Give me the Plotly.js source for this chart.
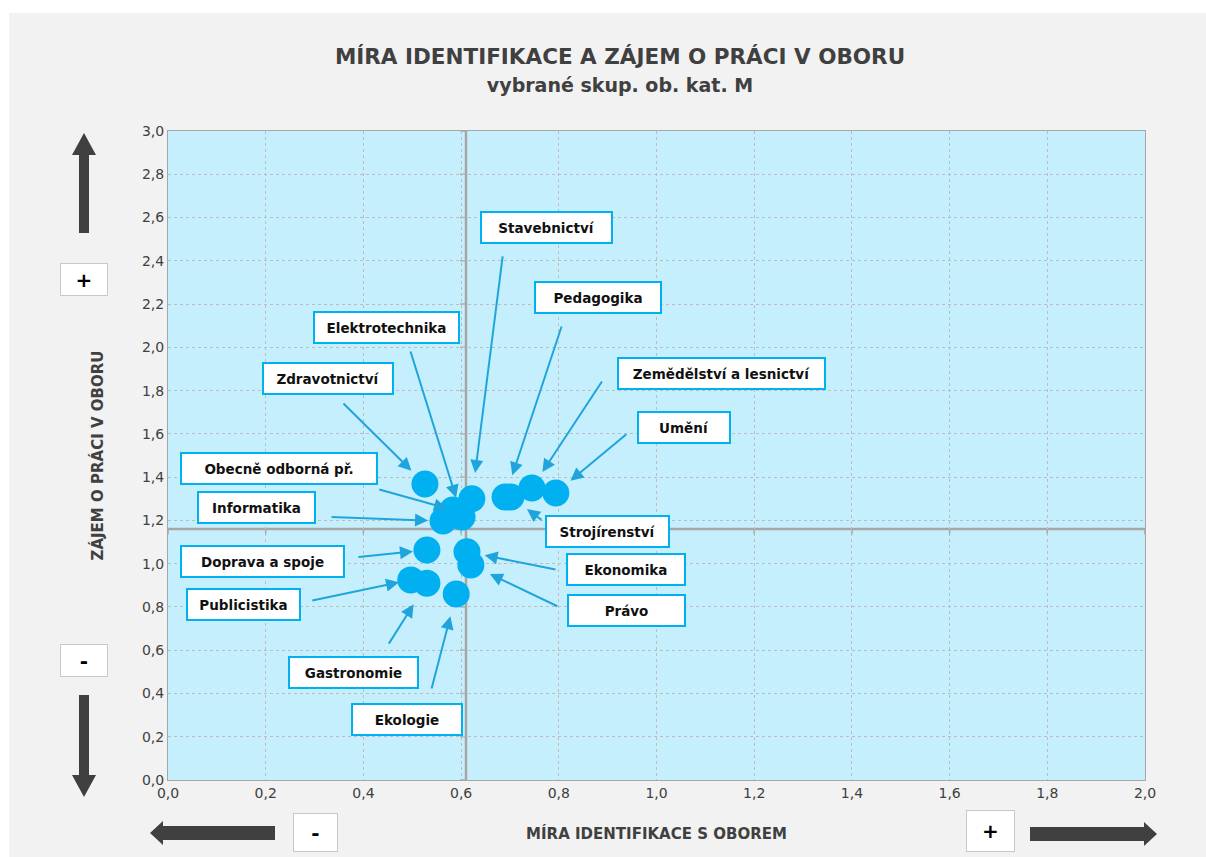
<!DOCTYPE html>
<html>
<head>
<meta charset="utf-8">
<script src="https://cdn.plot.ly/plotly-3.0.1.min.js"></script>
<style>
  html, body { margin: 0; padding: 0; background: #ffffff; width: 1206px; height: 857px; overflow: hidden; }
  #chart { position: absolute; left: 9px; top: 13px; width: 1197px; height: 844px; }
</style>
</head>
<body>
<div id="chart"></div>
<script>
// ---------------- DATA ----------------
const fields = ['Zdravotnictví','Obecně odborná př.','Informatika','Elektrotechnika','Stavebnictví',
  'Pedagogika','Strojírenství','Zemědělství a lesnictví','Umění','Doprava a spoje',
  'Ekonomika','Právo','Publicistika','Gastronomie','Ekologie'];
const identification = [0.526,0.583,0.563,0.602,0.622,0.690,0.702,0.745,0.794,0.530,0.612,0.620,0.497,0.530,0.590];
const interest =       [1.368,1.248,1.197,1.216,1.300,1.308,1.308,1.350,1.327,1.063,1.055,0.994,0.925,0.910,0.860];
const meanIdentification = 0.61;
const meanInterest = 1.16;
const xTicks = [0,0.2,0.4,0.6,0.8,1.0,1.2,1.4,1.6,1.8,2.0];
const yTicks = [0,0.2,0.4,0.6,0.8,1.0,1.2,1.4,1.6,1.8,2.0,2.2,2.4,2.6,2.8,3.0];

// ---------------- LAYOUT HELPERS (page pixels -> paper) ----------------
const PL = 168, PR = 1145, PT = 131, PB = 780;
const fx = p => (p - PL) / (PR - PL);
const fy = p => (PB - p) / (PB - PT);

// label box centre (page px) and width, in order of fields
const labelBox = [
  [328,378,132],[279,468,198],[256,507,119],[386,327,147],[546,228,133],
  [598,297,128],[607,531,125],[721,373,209],[684,427,94],[262,561,165],
  [626,569,120],[626,610,119],[243,604,115],[353,672,131],[407,719,112]
];
// arrow tail offset from the point (px) and standoff
const arrowTail = [
  [-83,-82,19],[-75,-21,6],[-113,-4,15],[-52,-167,20],[31,-244,26],
  [57,-172,23],[32,24,20],[71,-108,19],[72,-60,19],[-70,7,14],
  [90,18,18],[88,42,21],[-100,21,12],[-39,62,25],[-25,96,23]
];

const dark = '#404040';
const blue = '#00B0F0';
const arrowBlue = '#1FA5DC';
const labelFont = {family: 'DejaVu Sans, sans-serif', size: 13.5, color: '#111111'};

const annotations = [];
fields.forEach((f, i) => {
  const [cx, cy, w] = labelBox[i];
  annotations.push({
    xref: 'paper', yref: 'paper', x: fx(cx), y: fy(cy), xanchor: 'center', yanchor: 'middle',
    text: '<b>' + f + '</b>', showarrow: false, font: labelFont,
    bgcolor: '#ffffff', bordercolor: blue, borderwidth: 2, borderpad: 0,
    width: w - 4, height: 29
  });
  const [ax, ay, so] = arrowTail[i];
  annotations.push({
    xref: 'x', yref: 'y', x: identification[i], y: interest[i], text: '',
    showarrow: true, ax: ax, ay: ay, axref: 'pixel', ayref: 'pixel',
    arrowhead: 2, arrowsize: 1.3, arrowwidth: 2, arrowcolor: arrowBlue, standoff: so
  });
});

// +/- boxes
const signBoxes = [
  ['+', 84, 279.5, 48, 33],
  ['-', 84, 660.5, 48, 33],
  ['-', 315.5, 832.5, 45, 39],
  ['+', 990.5, 831, 49, 42]
];
signBoxes.forEach(([t, cx, cy, w, h]) => {
  annotations.push({
    xref: 'paper', yref: 'paper', x: fx(cx), y: fy(cy), xanchor: 'center', yanchor: 'middle',
    text: '<b>' + t + '</b>', showarrow: false,
    font: {family: 'DejaVu Sans, sans-serif', size: 20, color: '#000000'},
    bgcolor: '#ffffff', bordercolor: '#C8C8C8', borderwidth: 1, borderpad: 0,
    width: w - 2, height: h - 2
  });
});

// block arrows as paths in paper coords
function pathFromPx(pts) {
  return 'M ' + pts.map(p => fx(p[0]).toFixed(5) + ',' + fy(p[1]).toFixed(5)).join(' L ') + ' Z';
}
const blockArrows = [
  [[84,133],[96,155],[89,155],[89,233],[79,233],[79,155],[72,155]],
  [[84,797],[96,775],[89,775],[89,695],[79,695],[79,775],[72,775]],
  [[150,833],[163,821],[163,826],[275,826],[275,840],[163,840],[163,845]],
  [[1157,834],[1144,822],[1144,827],[1030,827],[1030,841],[1144,841],[1144,846]]
];
const shapes = blockArrows.map(pts => ({
  type: 'path', xref: 'paper', yref: 'paper', path: pathFromPx(pts),
  fillcolor: dark, line: {width: 0}
}));

// quadrant reference lines (axis crossings)
shapes.push({type: 'line', xref: 'x', yref: 'paper', x0: meanIdentification, x1: meanIdentification, y0: 0, y1: 1,
  line: {color: '#A6A6A6', width: 2.5}, layer: 'below'});
shapes.push({type: 'line', xref: 'paper', yref: 'y', x0: 0, x1: 1, y0: meanInterest, y1: meanInterest,
  line: {color: '#A6A6A6', width: 2.5}, layer: 'below'});
xTicks.forEach(v => shapes.push({type: 'line', xref: 'x', yref: 'y', x0: v, x1: v,
  y0: meanInterest, y1: meanInterest - 0.025, line: {color: '#A6A6A6', width: 1.5}, layer: 'below'}));
yTicks.forEach(v => shapes.push({type: 'line', xref: 'x', yref: 'y', x0: meanIdentification, x1: meanIdentification - 0.012,
  y0: v, y1: v, line: {color: '#A6A6A6', width: 1.5}, layer: 'below'}));

const trace = {
  type: 'scatter', mode: 'markers', x: identification, y: interest, text: fields,
  hoverinfo: 'text',
  marker: {size: 27, color: blue, line: {width: 0}}
};

const axisFont = {family: 'DejaVu Sans, sans-serif', size: 14, color: dark};
const layout = {
  width: 1197, height: 844,
  margin: {l: 159, r: 61, t: 118, b: 77},
  paper_bgcolor: '#F2F2F2', plot_bgcolor: '#C6EFFD',
  separators: ', ',
  showlegend: false,
  title: {
    text: '<b>MÍRA IDENTIFIKACE A ZÁJEM O PRÁCI V OBORU</b><br><span style="font-size:19px"><b>vybrané skup. ob. kat. M</b></span>',
    font: {family: 'DejaVu Sans, sans-serif', size: 21.5, color: dark},
    xref: 'container', yref: 'container', x: (620 - 9) / 1197, xanchor: 'center',
    y: 1 - (64 - 13) / 844, yanchor: 'middle'
  },
  xaxis: {
    range: [0, 2], tickvals: xTicks, tickformat: '.1f', ticks: '', tickfont: axisFont,
    showgrid: true, gridcolor: '#BDBDBD', griddash: 'dot', gridwidth: 1,
    zeroline: false, showline: true, linecolor: '#A6A6A6', linewidth: 1, mirror: true,
    fixedrange: true, automargin: false,
    title: {text: '<b>MÍRA IDENTIFIKACE S OBOREM</b>', font: {family: 'DejaVu Sans, sans-serif', size: 15, color: dark}, standoff: 28}
  },
  yaxis: {
    range: [0, 3], tickvals: yTicks, tickformat: '.1f', ticks: '', tickfont: axisFont,
    showgrid: true, gridcolor: '#BDBDBD', griddash: 'dot', gridwidth: 1,
    zeroline: false, showline: true, linecolor: '#A6A6A6', linewidth: 1, mirror: true,
    fixedrange: true, automargin: false,
    title: {text: '<b>ZÁJEM O PRÁCI V OBORU</b>', font: {family: 'DejaVu Sans, sans-serif', size: 15, color: dark}, standoff: 34}
  },
  shapes: shapes,
  annotations: annotations
};

Plotly.newPlot('chart', [trace], layout, {displayModeBar: false, staticPlot: true});
</script>
</body>
</html>
